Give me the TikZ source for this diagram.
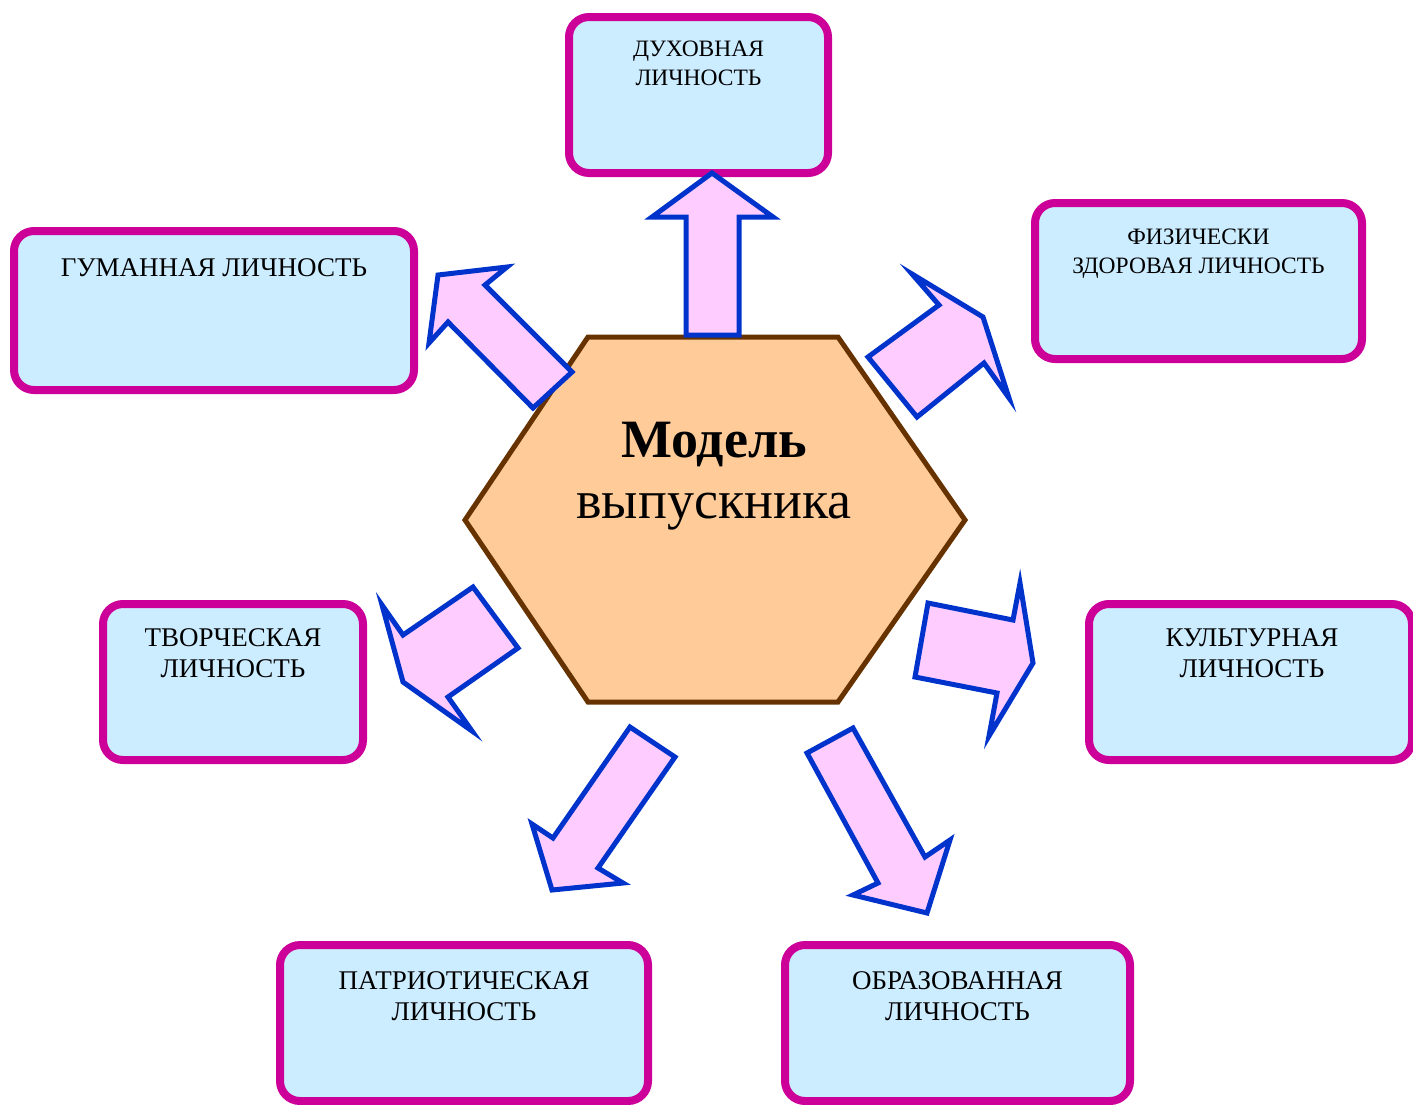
\documentclass[tikz,border=0pt]{standalone}
\usepackage{fontspec}
\setmainfont{Liberation Serif}
\usepackage{xcolor}
\usetikzlibrary{positioning}

\definecolor{boxline}{HTML}{CC0099}
\definecolor{boxfill}{HTML}{CCECFF}
\definecolor{hexline}{HTML}{663300}
\definecolor{hexfill}{HTML}{FFCC99}
\definecolor{arrline}{HTML}{0033CC}
\definecolor{arrfill}{HTML}{FFCCFF}

\begin{document}
\begin{tikzpicture}[x=1pt, y=-1pt, align=center, line join=miter]

    \tikzstyle{quality}=[draw=boxline, fill=boxfill, line width=8pt, rounded corners=20pt, minimum height=156pt]
    \tikzstyle{small text}=[inner sep=0pt, font=\fontsize{23.5}{29}\selectfont]
    \tikzstyle{large text}=[inner sep=0pt, font=\fontsize{27}{31.5}\selectfont]
    \tikzstyle{block arrow}=[draw=arrline, fill=arrfill, line width=5pt]

    \useasboundingbox (0,0) rectangle (1413,1104);

    \node[quality, minimum width=259pt] (1) at (698.5,95)   {};
    \node[quality, minimum width=327pt] (2) at (1198.5,281) {};
    \node[quality, minimum width=400pt, minimum height=159pt] (3) at (214,310.5) {};
    \node[quality, minimum width=260pt] (4) at (233,682)    {};
    \node[quality, minimum width=323pt] (5) at (1250.5,682) {};
    \node[quality, minimum width=368pt] (6) at (464,1023)   {};
    \node[quality, minimum width=345pt] (7) at (957.5,1023) {};

    \node[small text, below=28pt of 1.north] (1a) {ДУХОВНАЯ\\ЛИЧНОСТЬ};
    \node[small text, below=30pt of 2.north] (2a) {ФИЗИЧЕСКИ\\ЗДОРОВАЯ ЛИЧНОСТЬ};
    \node[large text, below=31pt of 3.north] (3a) {ГУМАННАЯ ЛИЧНОСТЬ};
    \node[large text, below=28pt of 4.north] (4a) {ТВОРЧЕСКАЯ\\ЛИЧНОСТЬ};
    \node[large text, below=28pt of 5.north, xshift=1.5pt] (5a) {КУЛЬТУРНАЯ\\ЛИЧНОСТЬ};
    \node[large text, below=30pt of 6.north] (6a) {ПАТРИОТИЧЕСКАЯ\\ЛИЧНОСТЬ};
    \node[large text, below=30pt of 7.north] (7a) {ОБРАЗОВАННАЯ\\ЛИЧНОСТЬ};

    \draw[draw=hexline, fill=hexfill, line width=5pt]
        (588,337) -- (838,337) -- (965,520) -- (838,702) -- (588,702) -- (465,520) -- cycle;
    \node[inner sep=0pt, anchor=north, font=\fontsize{54}{61}\selectfont] (0) at (714,422)
        {\textbf{Модель}\\выпускника};

    \draw[block arrow] (686,335) -- (686,217) -- (652,217) -- (712,173) -- (773,217) -- (739,217) -- (739,335) -- cycle;
    \draw[block arrow] (572,372) -- (485,285) -- (507,267) -- (438,275) -- (429,343) -- (448,322) -- (533,408) -- cycle;
    \draw[block arrow] (868,357) -- (939,305) -- (912,274) -- (983,317) -- (1009,398) -- (984,363) -- (917,417) -- cycle;
    \draw[block arrow] (928,603) -- (1013,620) -- (1020,583) -- (1033,663) -- (989,736) -- (997,693) -- (915,677) -- cycle;
    \draw[block arrow] (473,587) -- (403,635) -- (382,605) -- (403,682) -- (472,731) -- (448,697) -- (518,648) -- cycle;
    \draw[block arrow] (630,727) -- (675,757) -- (598,868) -- (623,883) -- (552,890) -- (532,824) -- (553,838) -- cycle;
    \draw[block arrow] (807,753) -- (853,728) -- (925,857) -- (950,840) -- (927,913) -- (853,895) -- (878,883) -- cycle;
\end{tikzpicture}
\end{document}
